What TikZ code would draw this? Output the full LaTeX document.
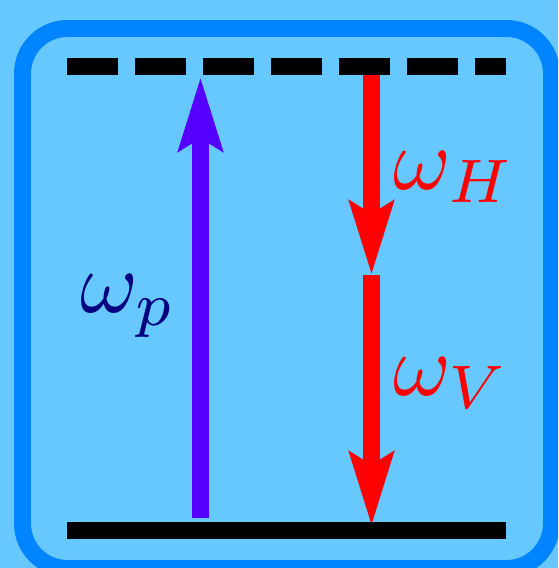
\documentclass[tikz,border=0pt]{standalone}
\usepackage{graphicx}
\usetikzlibrary{arrows.meta}
\definecolor{SkyBack}{RGB}{102,200,255}
\definecolor{FrameBlue}{RGB}{0,132,255}
\definecolor{PumpViolet}{RGB}{85,0,255}
\definecolor{PumpNavy}{RGB}{0,0,128}
\newcommand{\biglabel}[1]{\scalebox{5}{$#1$}}
\tikzset{
  frame/.style={draw=FrameBlue,line width=0.34cm,rounded corners=0.9cm},
  level/.style={line width=0.34cm,black},
  virtual/.style={level,dash pattern=on 1.02cm off 0.34cm},
  photon/.style={line width=0.34cm,
    -{Stealth[length=1.46cm,width=0.86cm,inset=0.24cm]}},
  label/.style={inner sep=0pt,anchor=base west}
}
\begin{document}
\begin{tikzpicture}[x=0.02cm,y=-0.02cm]
  \fill[SkyBack] (0,0) rectangle (558,568);
  \useasboundingbox (0,0) rectangle (558,568);
  \clip (0,0) rectangle (558,568);
  \draw[frame] (22.5,28.5) rectangle (551.5,568.5);
  \coordinate (upleft) at (67,66.5);
  \coordinate (upright) at (506,66.5);
  \coordinate (lowleft) at (67,530.5);
  \coordinate (lowright) at (506,530.5);
  \coordinate (pumpfoot) at (200.5,518);
  \coordinate (pumptip) at (200.5,77);
  \coordinate (hstart) at (371.5,66.5);
  \coordinate (htip) at (371.5,275);
  \coordinate (vtip) at (371.5,526);
  \draw[photon,PumpViolet] (pumpfoot) -- (pumptip);
  \draw[photon,red] (hstart) -- (htip);
  \draw[photon,red] (htip) -- (vtip);
  \draw[virtual] (upleft) -- (upright);
  \draw[level] (lowleft) -- (lowright);
  \node[label,red] (omegaH) at (393,189) {\biglabel{\omega_H}};
  \node[label,red] (omegaV) at (393,395) {\biglabel{\omega_V}};
  \node[label,PumpNavy] (omegaP) at (80,312) {\biglabel{\omega_p}};
\end{tikzpicture}
\end{document}
